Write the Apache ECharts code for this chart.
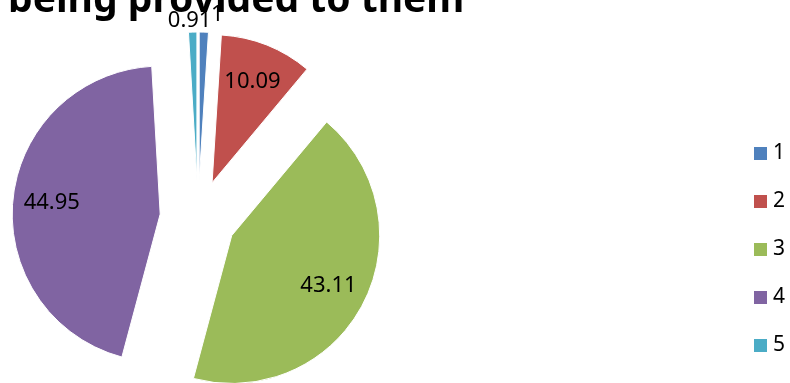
<!DOCTYPE html>
<html>
<head>
<meta charset="utf-8">
<script src="https://cdn.jsdelivr.net/npm/echarts@6/dist/echarts.min.js"></script>
<style>
  html, body { margin: 0; padding: 0; background: #fff; }
  #chart { width: 790px; height: 383px; }
</style>
</head>
<body>
<div id="chart"></div>
<script>
// 数据
var categories = ["1", "2", "3", "4", "5"];
var values = [1, 10.09, 43.11, 44.95, 0.91];
var colors = ["#4F81BD", "#C0504D", "#9BBB59", "#8064A2", "#4BACC6"];
var smallSlices = ["1", "5"];

var myChart = echarts.init(document.getElementById("chart"));

var center = [198, 218];
var offset = 38;

var pieData = categories.map(function (name, i) {
  return { name: name, value: values[i], selected: true, itemStyle: { color: colors[i] } };
});

// 只用来放标签的透明饼图
var labelData = categories.map(function (name, i) {
  var small = smallSlices.indexOf(name) >= 0;
  return { name: name, value: values[i], selected: true, label: { position: small ? "outside" : "inside" } };
});

var option = {
  animation: false,
  title: {
    text: "being provided to them",
    left: 3,
    top: -24,
    textStyle: {
      fontFamily: "Noto Sans",
      fontWeight: "bold",
      fontSize: 39,
      color: "#000"
    }
  },
  legend: {
    orient: "vertical",
    left: 752,
    top: 143,
    padding: 0,
    itemWidth: 15,
    itemHeight: 15,
    itemGap: 27,
    itemTextGap: 6,
    icon: "rect",
    selectedMode: false,
    data: categories.map(function (name, i) {
      return { name: name, itemStyle: { color: colors[i] } };
    }),
    textStyle: { fontFamily: "Noto Sans", fontSize: 21, color: "#000" }
  },
  series: [
    {
      type: "pie",
      center: center,
      radius: [0, 148],
      selectedMode: "multiple",
      selectedOffset: offset,
      startAngle: 90,
      clockwise: true,
      silent: true,
      itemStyle: { borderColor: "#fff", borderWidth: 1 },
      label: { show: false },
      labelLine: { show: false },
      data: pieData
    },
    {
      type: "pie",
      center: center,
      radius: [60, 152],
      selectedMode: "multiple",
      selectedOffset: offset,
      startAngle: 90,
      clockwise: true,
      silent: true,
      avoidLabelOverlap: false,
      itemStyle: { color: "rgba(0,0,0,0)" },
      label: {
        show: true,
        formatter: "{c}",
        fontFamily: "Noto Sans",
        fontSize: 22,
        color: "#000"
      },
      labelLine: { show: false, length: 4, length2: 0 },
      // 小扇区的标签挪到和原图一样叠在一起
      labelLayout: function (params) {
        if (params.dataIndex === 4) return { dx: 24, dy: -3 };
        if (params.dataIndex === 0) return { dx: 2, dy: -9 };
        return {};
      },
      data: labelData
    }
  ]
};

myChart.setOption(option);
</script>
</body>
</html>
